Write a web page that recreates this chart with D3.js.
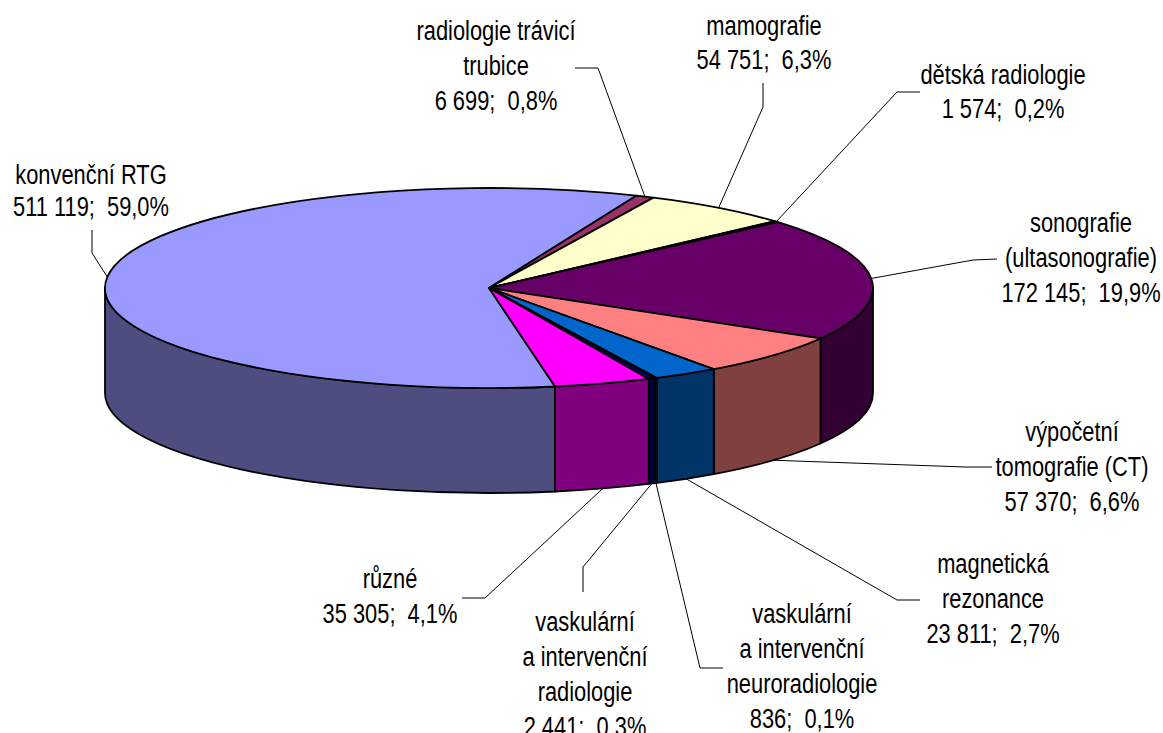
<!DOCTYPE html>
<html>
<head>
<meta charset="utf-8">
<script src="https://cdn.jsdelivr.net/npm/d3@7"></script>
<style>
  html, body { margin: 0; padding: 0; background: #fff; }
  svg text { font-family: "Liberation Sans", Arial, sans-serif; white-space: pre; }
</style>
</head>
<body>
<svg id="chart" width="1163" height="733"></svg>
<script>
// ---- data ----
const categories = [
  ["konvenční RTG"],
  ["radiologie trávicí", "trubice"],
  ["mamografie"],
  ["dětská radiologie"],
  ["sonografie", "(ultasonografie)"],
  ["výpočetní", "tomografie (CT)"],
  ["magnetická", "rezonance"],
  ["vaskulární", "a intervenční", "neuroradiologie"],
  ["vaskulární", "a intervenční", "radiologie"],
  ["různé"]
];
const values = [511119, 6699, 54751, 1574, 172145, 57370, 23811, 836, 2441, 35305];
const topColors  = ["#9999FF", "#993366", "#FFFFCC", "#CCFFFF", "#660066", "#FF8080", "#0066CC", "#CCCCFF", "#000080", "#FF00FF"];
const sideColors = ["#4D4D80", "#4D1A33", "#808066", "#668080", "#330033", "#804040", "#003366", "#666680", "#000040", "#800080"];

// ---- layout (label placement: centre x, first baseline, leader elbow, leader end) ----
const labelLayout = [
  { x: 91,   y: 184, dy: 32, elbow: [92, 253],  end: [92, 230] },
  { x: 496,  y: 40,  dy: 35, elbow: [598, 68],  end: [575, 68] },
  { x: 764,  y: 35,  dy: 34, elbow: [763, 107], end: [763, 83] },
  { x: 1003, y: 84,  dy: 34, elbow: [897, 92],  end: [920, 92] },
  { x: 1081, y: 232, dy: 35, elbow: [973, 260], end: [997, 259] },
  { x: 1072, y: 441, dy: 35, elbow: [965, 467], end: [992, 467] },
  { x: 993,  y: 573, dy: 35, elbow: [897, 600], end: [920, 600] },
  { x: 802,  y: 623, dy: 35, elbow: [700, 668], end: [723, 668] },
  { x: 585,  y: 631, dy: 35, elbow: [583, 567], end: [583, 592] },
  { x: 390,  y: 588, dy: 35, elbow: [485, 598], end: [462, 598] }
];

const cx = 489, cy = 288, rx = 384, ry = 100, depth = 105;
const startDeg = 170.1;
const fontSize = 27, squeeze = 0.81;

const svg = d3.select("#chart");
const rad = Math.PI / 180;

const pie = d3.pie().sort(null).value(d => d)
  .startAngle(startDeg * rad).endAngle((startDeg + 360) * rad);
const arcs = pie(values);

const px = a => cx + rx * Math.sin(a);
const py = a => cy - ry * Math.cos(a);

function arcPath(a0, a1, dz, sweep) {
  const large = Math.abs(a1 - a0) > Math.PI ? 1 : 0;
  return `A${rx},${ry} 0 ${large} ${sweep} ${px(a1)},${py(a1) + dz}`;
}

// walls (front half: angles 90..270 deg, modulo 360)
const frontRanges = [[90 * rad, 270 * rad], [450 * rad, 630 * rad]];
const walls = svg.append("g");
arcs.forEach((d, i) => {
  frontRanges.forEach(([f0, f1]) => {
    const s = Math.max(d.startAngle, f0), e = Math.min(d.endAngle, f1);
    if (e > s) {
      const p = `M${px(s)},${py(s)} ` + arcPath(s, e, 0, 1) +
        ` L${px(e)},${py(e) + depth} ` +
        `A${rx},${ry} 0 ${(e - s) > Math.PI ? 1 : 0} 0 ${px(s)},${py(s) + depth} Z`;
      walls.append("path").attr("d", p)
        .attr("fill", sideColors[i]).attr("stroke", "#000")
        .attr("stroke-width", 1.8).attr("stroke-linejoin", "round");
    }
  });
});

// tops
const tops = svg.append("g");
arcs.forEach((d, i) => {
  const p = `M${cx},${cy} L${px(d.startAngle)},${py(d.startAngle)} ` +
    arcPath(d.startAngle, d.endAngle, 0, 1) + " Z";
  tops.append("path").attr("d", p)
    .attr("fill", topColors[i]).attr("stroke", "#000")
    .attr("stroke-width", 1.8).attr("stroke-linejoin", "round");
});

// labels
const locale = d3.formatLocale({ decimal: ",", thousands: " ", grouping: [3], currency: ["", ""] });
const fmtVal = locale.format(",d");
const fmtPct = locale.format(".1%");
const total = d3.sum(values);

const leaders = svg.append("g");
const labels = svg.append("g");
arcs.forEach((d, i) => {
  const L = labelLayout[i];
  const mid = (d.startAngle + d.endAngle) / 2;
  let ax = px(mid), ay = py(mid);
  if (Math.cos(mid) < 0) ay += depth;
  leaders.append("polyline")
    .attr("points", [[ax, ay], L.elbow, L.end].map(p => p.join(",")).join(" "))
    .attr("fill", "none").attr("stroke", "#000").attr("stroke-width", 1);

  const lines = categories[i].concat([fmtVal(values[i]) + ";  " + fmtPct(values[i] / total)]);
  const g = labels.append("g").attr("transform", `translate(${L.x},0) scale(${squeeze},1)`);
  lines.forEach((t, k) => {
    g.append("text").attr("x", 0).attr("y", L.y + k * L.dy)
      .attr("text-anchor", "middle").attr("font-size", fontSize)
      .attr("fill", "#000").text(t);
  });
});
</script>
</body>
</html>
